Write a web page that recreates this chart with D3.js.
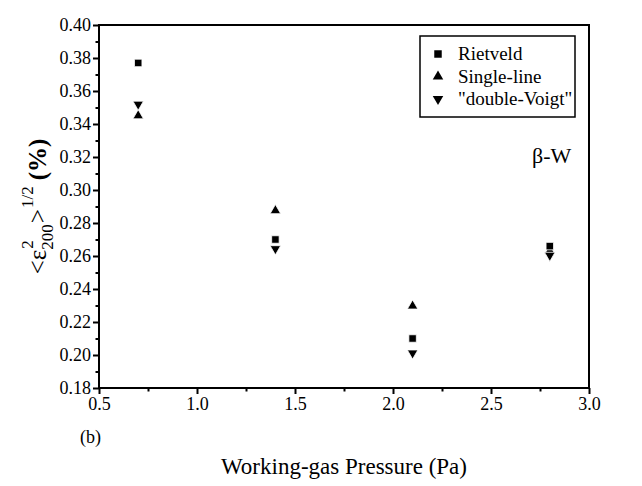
<!DOCTYPE html>
<html><head><meta charset="utf-8">
<script src="https://cdn.jsdelivr.net/npm/d3@7"></script>
<style>
body{margin:0;background:#fff;}
</style></head>
<body>
<svg id="c" width="642" height="486"></svg>
<script>
const pressure = [0.7, 1.4, 2.1, 2.8];
const rietveld = [0.377, 0.270, 0.210, 0.266];
const singleLine = [0.345, 0.2875, 0.2297, 0.263];
const doubleVoigt = [0.352, 0.2644, 0.2012, 0.2604];
const seriesNames = ["Rietveld", "Single-line", "\"double-Voigt\""];
const xTicks = [0.5, 1.0, 1.5, 2.0, 2.5, 3.0];
const yTicks = [0.18, 0.20, 0.22, 0.24, 0.26, 0.28, 0.30, 0.32, 0.34, 0.36, 0.38, 0.40];

const FONT = "Liberation Serif";
const W = 642, H = 486;
const m = {l: 99, t: 25, r: 53, b: 98};
const svg = d3.select("#c");
const x = d3.scaleLinear().domain([0.5, 3.0]).range([m.l, W - m.r]);
const y = d3.scaleLinear().domain([0.18, 0.40]).range([H - m.b, m.t]);

const xMinor = d3.range(0.75, 3.0, 0.5);
const yMinor = d3.range(0.19, 0.40, 0.02);

const gx = svg.append("g").attr("transform", `translate(0,${H - m.b})`)
  .call(d3.axisBottom(x).tickValues(xTicks).tickFormat(d3.format(".1f")).tickSize(6).tickPadding(3));
const gxm = svg.append("g").attr("transform", `translate(0,${H - m.b})`)
  .call(d3.axisBottom(x).tickValues(xMinor).tickFormat("").tickSize(3.5));
const gy = svg.append("g").attr("transform", `translate(${m.l},0)`)
  .call(d3.axisLeft(y).tickValues(yTicks).tickFormat(d3.format(".2f")).tickSize(6).tickPadding(2));
const gym = svg.append("g").attr("transform", `translate(${m.l},0)`)
  .call(d3.axisLeft(y).tickValues(yMinor).tickFormat("").tickSize(3.5));
[gx, gxm, gy, gym].forEach(g => {
  g.attr("font-family", FONT).attr("font-size", 18);
  g.select(".domain").remove();
  g.selectAll("line").attr("stroke", "#000").attr("stroke-width", 2);
  g.selectAll("text").attr("font-family", FONT).attr("font-size", 18).attr("fill", "#000");
});

svg.append("rect").attr("x", m.l).attr("y", m.t)
  .attr("width", W - m.l - m.r).attr("height", H - m.t - m.b)
  .attr("fill", "none").attr("stroke", "#000").attr("stroke-width", 2);

const sq = d3.symbol().type(d3.symbolSquare).size(56);
const tri = d3.symbol().type(d3.symbolTriangle).size(48);
const series = [
  {vals: singleLine, path: tri(), rot: 0},
  {vals: rietveld, path: sq(), rot: 0},
  {vals: doubleVoigt, path: tri(), rot: 180}
];
series.forEach(s => {
  svg.append("g").selectAll("path").data(pressure.map((p, i) => [p, s.vals[i]]))
    .join("path").attr("d", s.path)
    .attr("transform", d => `translate(${x(d[0])},${y(d[1])}) rotate(${s.rot})`)
    .attr("fill", "#000").attr("stroke", "#fff").attr("stroke-width", 0.8);
});

const txt = (sel) => sel.append("text").attr("font-family", FONT).attr("fill", "#000");

const leg = svg.append("g");
leg.append("rect").attr("x", 420).attr("y", 36).attr("width", 155).attr("height", 81)
  .attr("fill", "#fff").attr("stroke", "#000").attr("stroke-width", 1.5);
const legItems = [
  {name: seriesNames[0], path: sq(), rot: 0},
  {name: seriesNames[1], path: tri(), rot: 0},
  {name: seriesNames[2], path: tri(), rot: 180}
];
legItems.forEach((it, i) => {
  const cy = 54 + i * 22.5;
  leg.append("path").attr("d", it.path).attr("transform", `translate(438,${cy}) rotate(${it.rot})`).attr("fill", "#000");
  txt(leg).attr("x", 458).attr("y", cy + 6).attr("font-size", 19).text(it.name);
});

txt(svg).attr("x", 532).attr("y", 163).attr("font-size", 22).text("β-W");

txt(svg).attr("x", (m.l + W - m.r) / 2).attr("y", 474).attr("text-anchor", "middle")
  .attr("font-size", 23).text("Working-gas Pressure (Pa)");

txt(svg).attr("x", 80).attr("y", 443).attr("font-size", 18).text("(b)");

const yl = svg.append("g").attr("transform", `translate(46,${(m.t + H - m.b) / 2}) rotate(-90)`);
const parts = yl.append("g");
const t1 = txt(parts).attr("x", 0).attr("y", 0).attr("font-size", 25).text("<ε");
let cx = t1.node().getComputedTextLength();
const t2 = txt(parts).attr("x", cx).attr("y", 7).attr("font-size", 17).text("200");
txt(parts).attr("x", cx + 1).attr("y", -13).attr("font-size", 17).text("2");
cx += t2.node().getComputedTextLength() + 1;
const t4 = txt(parts).attr("x", cx).attr("y", 0).attr("font-size", 25).text(">");
cx += t4.node().getComputedTextLength() + 1;
const t5 = txt(parts).attr("x", cx).attr("y", -13).attr("font-size", 17).text("1/2");
cx += t5.node().getComputedTextLength() + 6;
const t6 = txt(parts).attr("x", cx).attr("y", 0).attr("font-size", 25).attr("font-weight", "bold").text("(%)");
cx += t6.node().getComputedTextLength();
parts.attr("transform", `translate(${-cx / 2},0)`);
</script>
</body></html>
